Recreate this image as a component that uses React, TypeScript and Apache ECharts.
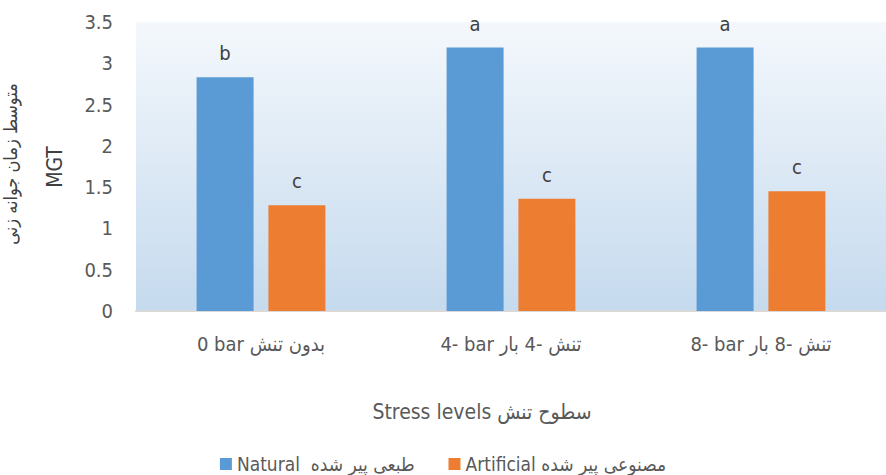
import React, { useEffect, useRef } from "react";
import * as echarts from "echarts";

const categories = ["0 bar بدون تنش", "4- bar تنش -4 بار", "8- bar تنش -8 بار"];
const naturalName = "Natural  طبعی پیر شده";
const artificialName = "Artificial مصنوعی پیر شده";
const naturalValues = [2.83, 3.19, 3.19];
const artificialValues = [1.28, 1.36, 1.45];
const naturalLetters = ["b", "a", "a"];
const artificialLetters = ["c", "c", "c"];
const yMin = 0;
const yMax = 3.5;
const yInterval = 0.5;
const yTitleFa = "متوسط زمان جوانه زنی";
const yTitleEn = "MGT";
const xTitle = "Stress levels سطوح تنش";

const FONT = '"DejaVu Sans Condensed", "DejaVu Sans", sans-serif';

export default function App() {
  const ref = useRef<HTMLDivElement>(null);
  useEffect(() => {
    if (!ref.current) return;
    const chart = echarts.init(ref.current, undefined, { renderer: "svg" });
    chart.setOption({
      animation: false,
      backgroundColor: "#ffffff",
      textStyle: { fontFamily: FONT },
      grid: {
        left: 136,
        right: -6,
        top: 22,
        bottom: 164,
        show: true,
        borderWidth: 0,
        backgroundColor: new echarts.graphic.LinearGradient(0, 0, 0, 1, [
          { offset: 0, color: "#f4f8fc" },
          { offset: 1, color: "#c5daee" },
        ]),
      },
      legend: {
        left: "center",
        top: 449,
        itemWidth: 12,
        itemHeight: 12,
        itemGap: 34,
        icon: "rect",
        textStyle: { fontFamily: FONT, fontSize: 19, color: "#595959", lineHeight: 20 },
        data: [naturalName, artificialName],
      },
      xAxis: {
        type: "category",
        data: categories,
        axisLine: { show: true, lineStyle: { color: "#d9d9d9", width: 2 } },
        axisTick: { show: false },
        axisLabel: { fontFamily: FONT, fontSize: 20, color: "#595959", margin: 23 },
      },
      yAxis: {
        type: "value",
        min: yMin,
        max: yMax,
        interval: yInterval,
        splitLine: { show: false },
        axisLine: { show: false },
        axisTick: { show: false },
        axisLabel: { fontFamily: FONT, fontSize: 20, color: "#595959", margin: 23 },
      },
      graphic: [
        {
          type: "text",
          x: 10,
          y: 164,
          rotation: Math.PI / 2,
          style: {
            text: yTitleFa,
            font: `18px ${FONT}`,
            fill: "#404040",
            align: "center",
            verticalAlign: "middle",
          },
        },
        {
          type: "text",
          x: 55,
          y: 167,
          rotation: Math.PI / 2,
          style: {
            text: yTitleEn,
            font: `21px ${FONT}`,
            fill: "#404040",
            align: "center",
            verticalAlign: "middle",
          },
        },
        {
          type: "text",
          x: 482,
          y: 412,
          style: {
            text: xTitle,
            font: `21px ${FONT}`,
            fill: "#595959",
            align: "center",
            verticalAlign: "middle",
          },
        },
      ],
      series: [
        {
          name: naturalName,
          type: "bar",
          data: naturalValues,
          barWidth: 57,
          barGap: "26%",
          itemStyle: { color: "#5b9bd5" },
          label: {
            show: true,
            position: "top",
            distance: 14,
            fontFamily: FONT,
            fontSize: 20,
            color: "#404040",
            formatter: (p: any) => naturalLetters[p.dataIndex],
          },
        },
        {
          name: artificialName,
          type: "bar",
          data: artificialValues,
          barWidth: 57,
          barGap: "26%",
          itemStyle: { color: "#ed7d31" },
          label: {
            show: true,
            position: "top",
            distance: 14,
            fontFamily: FONT,
            fontSize: 20,
            color: "#404040",
            formatter: (p: any) => artificialLetters[p.dataIndex],
          },
        },
      ],
    });
    return () => chart.dispose();
  }, []);
  return (
    <div
      ref={ref}
      style={{ position: "fixed", left: 0, top: 0, width: 886, height: 475 }}
    />
  );
}
